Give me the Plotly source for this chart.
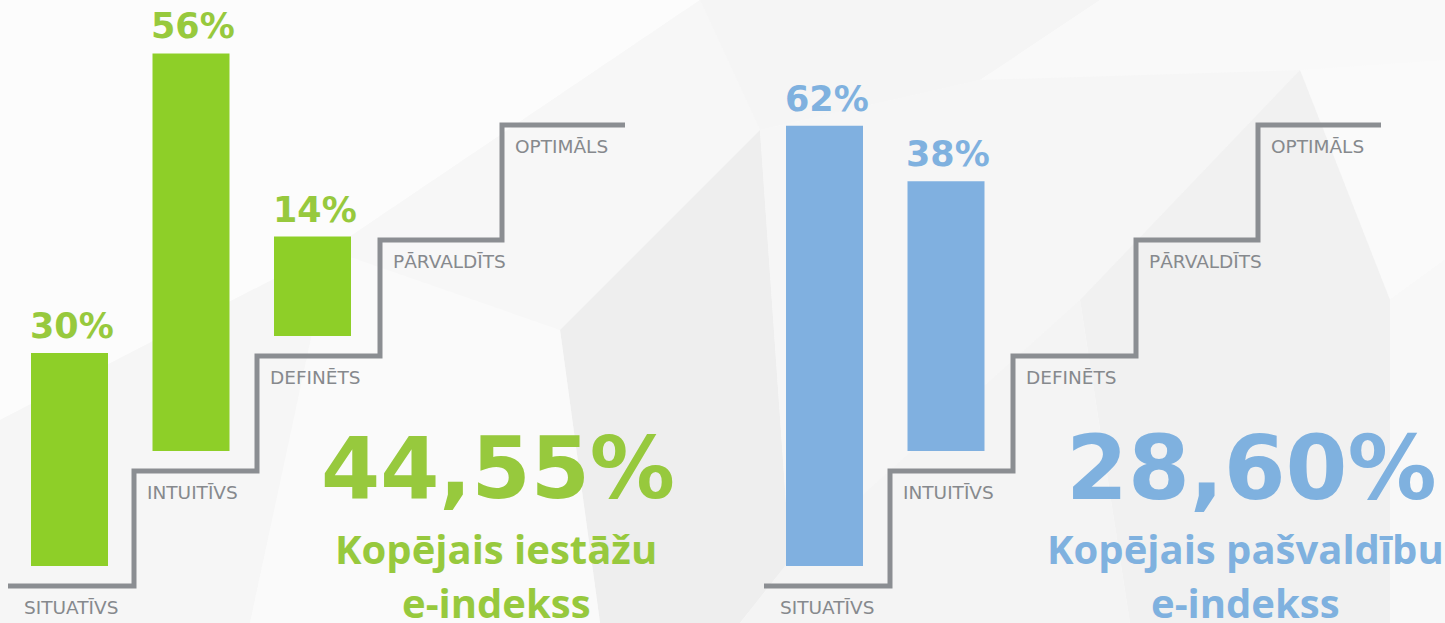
import plotly.graph_objects as go

# ---------------- data ----------------
levels = ["SITUATĪVS", "INTUITĪVS", "DEFINĒTS", "PĀRVALDĪTS", "OPTIMĀLS"]
iestades_values = [30, 56, 14]          # % per level (left panel)
pasvaldibas_values = [62, 38]           # % per level (right panel)
iestades_index = "44,55%"
pasvaldibas_index = "28,60%"
iestades_title = ["Kopējais iestāžu", "e-indekss"]
pasvaldibas_title = ["Kopējais pašvaldību", "e-indekss"]

# ---------------- layout constants ----------------
W, H = 1445, 623
PX = 7.1                      # pixels per 1 %
def u(px_from_top):           # pixel row -> y units (%)
    return (H - px_from_top) / PX

LEVEL_PX = [586, 471, 356, 240, 125]   # tread heights (pixel rows)
GAP_PX = 20

GREEN_BAR, GREEN_TXT = "#8ecf28", "#97c93d"
BLUE_BAR, BLUE_TXT = "#80b0e0", "#7fb1df"
STAIR = "#8b8e92"
LABEL = "#86898d"

panels = [
    dict(origin=8, risers=[134, 257, 380, 502], end=625, values=iestades_values,
         bar=GREEN_BAR, txt=GREEN_TXT, index=iestades_index, title=iestades_title,
         cx_big=496, cx_index=498, index_size=85, bar0=69.5),
    dict(origin=764, risers=[890, 1013, 1136, 1258], end=1381, values=pasvaldibas_values,
         bar=BLUE_BAR, txt=BLUE_TXT, index=pasvaldibas_index, title=pasvaldibas_title,
         cx_big=1245, cx_index=1251, index_size=89, bar0=824.5),
]

fig = go.Figure()
ann = []

# ---------------- background facets ----------------
facets = [
    ("M0,0 L700,0 L330,250 L0,420 Z", "#fcfcfc"),
    ("M0,420 L330,250 L250,623 L0,623 Z", "#f6f6f6"),
    ("M330,250 L700,0 L760,130 L560,330 Z", "#f7f7f7"),
    ("M560,330 L760,130 L790,560 L740,623 L600,623 Z", "#eeeeee"),
    ("M250,623 L330,250 L560,330 L600,623 Z", "#fafafa"),
    ("M700,0 L1100,0 L980,80 L760,130 Z", "#f5f5f5"),
    ("M980,80 L1100,0 L1445,0 L1445,60 L1300,70 Z", "#f9f9f9"),
    ("M760,130 L980,80 L1300,70 L1080,300 L790,560 Z", "#f6f6f6"),
    ("M1300,70 L1445,60 L1445,260 L1390,300 Z", "#fafafa"),
    ("M1080,300 L1300,70 L1390,300 L1390,623 L1130,623 Z", "#f1f1f1"),
    ("M1390,300 L1445,260 L1445,623 L1390,623 Z", "#f8f8f8"),
    ("M790,560 L1080,300 L1130,623 L740,623 Z", "#f4f4f4"),
]
shapes = []
for path, col in facets:
    parts = path.replace("M", " M ").replace("L", " L ").replace("Z", " Z ").split()
    out = []
    for p in parts:
        if "," in p:
            x, y = p.split(",")
            out.append(f"{x},{u(float(y))}")
        else:
            out.append(p)
    shapes.append(dict(type="path", path=" ".join(out), xref="x", yref="y",
                       fillcolor=col, line=dict(width=0), layer="below"))

for p in panels:
    o, r, e = p["origin"], p["risers"], p["end"]
    lv = [u(v) for v in LEVEL_PX]

    # staircase
    fig.add_trace(go.Scatter(
        x=[o] + r + [e], y=lv + [lv[-1]], mode="lines",
        line=dict(color=STAIR, width=5, shape="hv"),
        hoverinfo="skip", showlegend=False))

    # level labels
    starts = [o + 3] + r
    for i, name in enumerate(levels):
        ann.append(dict(x=starts[i] + 11, y=u(LEVEL_PX[i] + 21), text=name,
                        xanchor="left", yanchor="middle", showarrow=False,
                        font=dict(family="DejaVu Sans", size=18.5, color=LABEL)))

    # bars
    n = len(p["values"])
    xs = [p["bar0"] + 121.5 * k for k in range(n)]
    bases = [u(LEVEL_PX[k] - GAP_PX) for k in range(n)]
    fig.add_trace(go.Bar(
        x=xs, y=p["values"], base=bases, width=77,
        marker=dict(color=p["bar"], line=dict(width=0)),
        hoverinfo="skip", showlegend=False))
    for x, b, v in zip(xs, bases, p["values"]):
        ann.append(dict(x=x + 2, y=b + v + 27 / PX, text=f"{v}%",
                        xanchor="center", yanchor="middle", showarrow=False,
                        font=dict(family="DejaVu Sans", size=35, color=p["txt"], weight="bold")))

    # big index
    ann.append(dict(x=p["cx_index"], y=u(468), text=p["index"], xanchor="center",
                    yanchor="middle", showarrow=False,
                    font=dict(family="DejaVu Sans", size=p["index_size"], color=p["txt"], weight="bold")))
    ann.append(dict(x=p["cx_big"], y=u(548), text=p["title"][0], xanchor="center",
                    yanchor="middle", showarrow=False,
                    font=dict(family="Open Sans", size=40, color=p["txt"], weight="bold")))
    ann.append(dict(x=p["cx_big"], y=u(602), text=p["title"][1], xanchor="center",
                    yanchor="middle", showarrow=False,
                    font=dict(family="Open Sans", size=40, color=p["txt"], weight="bold")))

fig.update_layout(
    width=W, height=H, margin=dict(l=0, r=0, t=0, b=0),
    paper_bgcolor="#f8f8f8", plot_bgcolor="#f8f8f8",
    xaxis=dict(range=[0, W], visible=False, fixedrange=True),
    yaxis=dict(range=[0, H / PX], visible=False, fixedrange=True),
    annotations=ann, shapes=shapes, barmode="overlay",
)

fig.write_html("out.html", config={"displayModeBar": False},
               post_script="document.body.style.margin='0';")
